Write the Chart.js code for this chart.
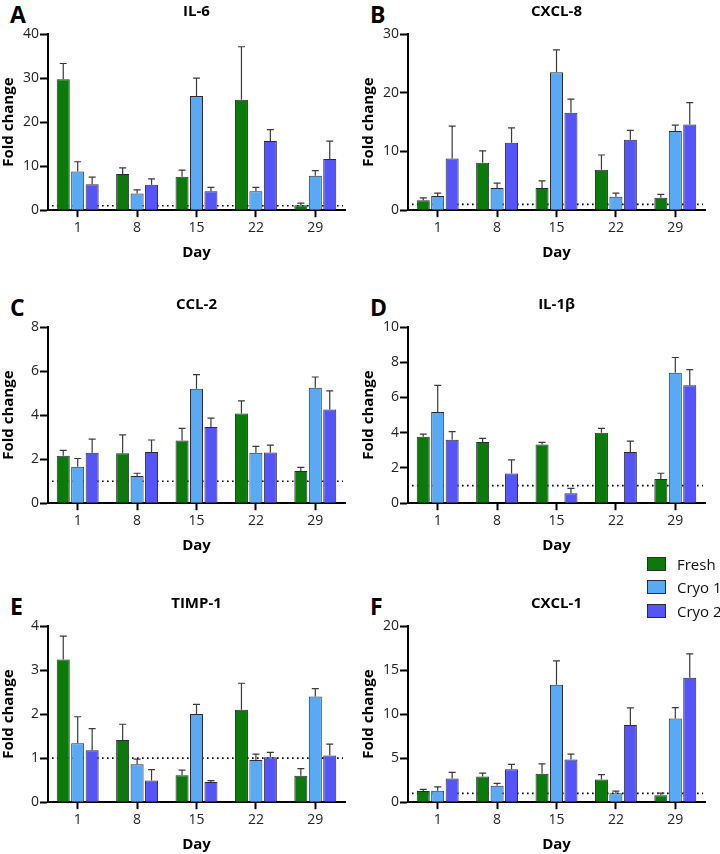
<!DOCTYPE html>
<html>
<head>
<meta charset="utf-8">
<script src="https://cdn.jsdelivr.net/npm/chart.js@4"></script>
<style>
  body { margin: 0; background: #fff; width: 720px; height: 854px; position: relative; overflow: hidden; font-family: 'Open Sans', sans-serif; }
  .panel { position: absolute; width: 360px; height: 262px; }
  .letter { position: absolute; font: bold 23px 'Open Sans', sans-serif; color: #000; line-height: 1; }
  .legend { position: absolute; left: 647px; top: 552px; width: 73px; font: 15px 'Open Sans', sans-serif; color: #111; white-space: nowrap; }
  .legend div { height: 23.5px; display: flex; align-items: center; }
  .legend span.box { flex: none; width: 17px; height: 12px; border: 1px solid #2b2b3a; margin-right: 11px; }
</style>
</head>
<body>

<div class="letter" style="left:10px;top:3px">A</div>
<div class="letter" style="left:370px;top:3px">B</div>
<div class="letter" style="left:10px;top:296px">C</div>
<div class="letter" style="left:370px;top:296px">D</div>
<div class="letter" style="left:10px;top:595px">E</div>
<div class="letter" style="left:370px;top:595px">F</div>

<div class="panel" style="left:0;top:0"><canvas id="chartA"></canvas></div>
<div class="panel" style="left:360px;top:0"><canvas id="chartB"></canvas></div>
<div class="panel" style="left:0;top:293px"><canvas id="chartC"></canvas></div>
<div class="panel" style="left:360px;top:293px"><canvas id="chartD"></canvas></div>
<div class="panel" style="left:0;top:592px"><canvas id="chartE"></canvas></div>
<div class="panel" style="left:360px;top:592px"><canvas id="chartF"></canvas></div>

<div class="legend">
  <div><span class="box" style="background:#0b7a0b"></span>Fresh</div>
  <div><span class="box" style="background:#5aa9f5"></span>Cryo 1</div>
  <div><span class="box" style="background:#5555f7"></span>Cryo 2</div>
</div>

<script>
const days = ['1', '8', '15', '22', '29'];
const seriesNames = ['Fresh', 'Cryo 1', 'Cryo 2'];

// IL-6
const il6Fresh = [29.7, 8.2, 7.6, 25.1, 1.1];
const il6FreshErr = [3.6, 1.4, 1.5, 12.0, 0.5];
const il6Cryo1 = [8.8, 3.8, 25.9, 4.3, 7.8];
const il6Cryo1Err = [2.2, 0.8, 4.1, 0.9, 1.2];
const il6Cryo2 = [5.9, 5.8, 4.3, 15.7, 11.6];
const il6Cryo2Err = [1.6, 1.3, 0.9, 2.6, 4.1];

// CXCL-8
const cxcl8Fresh = [1.7, 8.1, 3.8, 6.9, 2.1];
const cxcl8FreshErr = [0.4, 2.0, 1.2, 2.5, 0.6];
const cxcl8Cryo1 = [2.4, 3.8, 23.5, 2.3, 13.5];
const cxcl8Cryo1Err = [0.5, 0.8, 3.8, 0.6, 1.0];
const cxcl8Cryo2 = [8.8, 11.5, 16.6, 12.0, 14.6];
const cxcl8Cryo2Err = [5.5, 2.5, 2.3, 1.6, 3.7];

// CCL-2
const ccl2Fresh = [2.15, 2.27, 2.85, 4.07, 1.46];
const ccl2FreshErr = [0.25, 0.83, 0.55, 0.58, 0.17];
const ccl2Cryo1 = [1.66, 1.23, 5.2, 2.29, 5.24];
const ccl2Cryo1Err = [0.37, 0.13, 0.64, 0.29, 0.49];
const ccl2Cryo2 = [2.29, 2.32, 3.46, 2.3, 4.25];
const ccl2Cryo2Err = [0.62, 0.55, 0.4, 0.34, 0.85];

// IL-1β
const il1bFresh = [3.77, 3.47, 3.33, 4.0, 1.37];
const il1bFreshErr = [0.15, 0.21, 0.12, 0.25, 0.33];
const il1bCryo1 = [5.18, null, null, null, 7.41];
const il1bCryo1Err = [1.51, null, null, null, 0.86];
const il1bCryo2 = [3.6, 1.68, 0.57, 2.9, 6.7];
const il1bCryo2Err = [0.46, 0.78, 0.27, 0.62, 0.88];

// TIMP-1
const timp1Fresh = [3.24, 1.41, 0.61, 2.1, 0.6];
const timp1FreshErr = [0.53, 0.36, 0.12, 0.6, 0.16];
const timp1Cryo1 = [1.34, 0.86, 2.0, 0.96, 2.4];
const timp1Cryo1Err = [0.6, 0.12, 0.22, 0.13, 0.18];
const timp1Cryo2 = [1.18, 0.49, 0.46, 1.02, 1.06];
const timp1Cryo2Err = [0.49, 0.25, 0.03, 0.11, 0.26];

// CXCL-1
const cxcl1Fresh = [1.26, 2.93, 3.24, 2.59, 0.8];
const cxcl1FreshErr = [0.19, 0.38, 1.1, 0.53, 0.23];
const cxcl1Cryo1 = [1.3, 1.87, 13.33, 1.03, 9.49];
const cxcl1Cryo1Err = [0.45, 0.26, 2.71, 0.23, 1.25];
const cxcl1Cryo2 = [2.7, 3.73, 4.84, 8.76, 14.13];
const cxcl1Cryo2Err = [0.69, 0.57, 0.61, 1.94, 2.71];

const colors = ['#0b7a0b', '#5aa9f5', '#5555f7'];

// dotted reference line at fold change = 1, behind the bars
const baselinePlugin = {
    id: 'baseline',
    beforeDatasetsDraw(chart) {
        const ctx = chart.ctx;
        const area = chart.chartArea;
        const y = chart.scales.y.getPixelForValue(1);
        ctx.save();
        ctx.strokeStyle = '#000';
        ctx.lineWidth = 1.6;
        ctx.setLineDash([1.6, 3.4]);
        ctx.beginPath();
        ctx.moveTo(area.left + 4, y);
        ctx.lineTo(area.right - 2, y);
        ctx.stroke();
        ctx.restore();
    }
};

// upper error bars from each dataset's err array
const errorBarPlugin = {
    id: 'errorBars',
    afterDatasetsDraw(chart) {
        const ctx = chart.ctx;
        const yScale = chart.scales.y;
        ctx.save();
        ctx.strokeStyle = '#3a3a3a';
        ctx.lineWidth = 1.2;
        chart.data.datasets.forEach((ds, i) => {
            const meta = chart.getDatasetMeta(i);
            meta.data.forEach((bar, j) => {
                const v = ds.data[j];
                const e = ds.err[j];
                if (v == null || e == null) return;
                const yTop = yScale.getPixelForValue(v + e);
                ctx.beginPath();
                ctx.moveTo(bar.x, bar.y);
                ctx.lineTo(bar.x, yTop);
                ctx.moveTo(bar.x - 3.5, yTop);
                ctx.lineTo(bar.x + 3.5, yTop);
                ctx.stroke();
            });
        });
        ctx.restore();
    }
};

function makeChart(id, title, series, errs, max, step) {
    const ctx = document.getElementById(id).getContext('2d');
    new Chart(ctx, {
        type: 'bar',
        data: {
            labels: days,
            datasets: series.map((s, i) => ({
                label: seriesNames[i],
                data: s,
                err: errs[i],
                backgroundColor: colors[i],
                borderColor: '#2b2b3a',
                borderWidth: 1,
                categoryPercentage: 0.73,
                barPercentage: 0.9
            }))
        },
        options: {
            responsive: true,
            maintainAspectRatio: false,
            animation: false,
            layout: { padding: { left: 0, right: 15, top: 0, bottom: 0 } },
            scales: {
                x: {
                    grid: { display: true, drawOnChartArea: false, offset: false, tickLength: 7, tickWidth: 2, tickColor: '#000' },
                    border: { color: '#000', width: 2 },
                    ticks: { color: '#222', font: { family: 'Open Sans', size: 14 }, padding: 2 },
                    title: { display: true, text: 'Day', color: '#000', font: { family: 'Open Sans', size: 15, weight: 'bold' }, padding: { top: 6, bottom: 0 } }
                },
                y: {
                    min: 0,
                    max: max,
                    ticks: { stepSize: step, color: '#222', font: { family: 'Open Sans', size: 14 }, padding: 1 },
                    grid: { display: true, drawOnChartArea: false, tickLength: 8, tickWidth: 2, tickColor: '#000' },
                    border: { color: '#000', width: 2 },
                    title: { display: true, text: 'Fold change', color: '#000', font: { family: 'Open Sans', size: 15, weight: 'bold' }, padding: 0 },
                    afterFit(scale) { scale.width = 48; }
                }
            },
            plugins: {
                legend: { display: false },
                tooltip: { enabled: false },
                title: {
                    display: true,
                    text: title,
                    fullSize: false,
                    color: '#000',
                    font: { family: 'Open Sans', size: 15, weight: 'bold' },
                    padding: { top: 3, bottom: 13 }
                }
            }
        },
        plugins: [baselinePlugin, errorBarPlugin]
    });
}

makeChart('chartA', 'IL-6', [il6Fresh, il6Cryo1, il6Cryo2], [il6FreshErr, il6Cryo1Err, il6Cryo2Err], 40, 10);
makeChart('chartB', 'CXCL-8', [cxcl8Fresh, cxcl8Cryo1, cxcl8Cryo2], [cxcl8FreshErr, cxcl8Cryo1Err, cxcl8Cryo2Err], 30, 10);
makeChart('chartC', 'CCL-2', [ccl2Fresh, ccl2Cryo1, ccl2Cryo2], [ccl2FreshErr, ccl2Cryo1Err, ccl2Cryo2Err], 8, 2);
makeChart('chartD', 'IL-1β', [il1bFresh, il1bCryo1, il1bCryo2], [il1bFreshErr, il1bCryo1Err, il1bCryo2Err], 10, 2);
makeChart('chartE', 'TIMP-1', [timp1Fresh, timp1Cryo1, timp1Cryo2], [timp1FreshErr, timp1Cryo1Err, timp1Cryo2Err], 4, 1);
makeChart('chartF', 'CXCL-1', [cxcl1Fresh, cxcl1Cryo1, cxcl1Cryo2], [cxcl1FreshErr, cxcl1Cryo1Err, cxcl1Cryo2Err], 20, 5);
</script>
</body>
</html>
